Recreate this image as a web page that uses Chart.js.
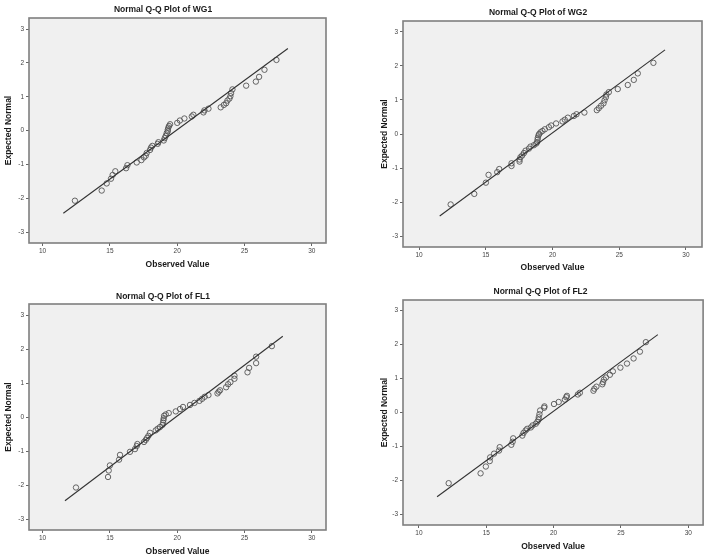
<!DOCTYPE html>
<html>
<head>
<meta charset="utf-8">
<script src="https://cdn.jsdelivr.net/npm/chart.js@4.4.1/dist/chart.umd.min.js"></script>
<style>
  html, body { margin: 0; padding: 0; background: #fff; }
  body { width: 708px; height: 557px; position: relative; overflow: hidden; }
  .panel { position: absolute; }
</style>
</head>
<body>
<div class="panel" style="left:0;top:0"><canvas id="c1" width="354" height="277"></canvas></div>
<div class="panel" style="left:354px;top:0"><canvas id="c2" width="354" height="277"></canvas></div>
<div class="panel" style="left:0;top:277px"><canvas id="c3" width="354" height="280"></canvas></div>
<div class="panel" style="left:354px;top:277px"><canvas id="c4" width="354" height="280"></canvas></div>
<script>
// tick labels shared by all four plots
const xTicks = [10, 15, 20, 25, 30];
const yTicks = [-3, -2, -1, 0, 1, 2, 3];

const titles = ['Normal Q-Q Plot of WG1', 'Normal Q-Q Plot of WG2', 'Normal Q-Q Plot of FL1', 'Normal Q-Q Plot of FL2'];

const wg1X = [12.40, 14.39, 14.76, 15.08, 15.2, 15.4, 16.2, 16.3, 16.99, 17.34, 17.53, 17.66, 17.73, 17.98, 18.05, 18.15, 18.55, 18.6, 19.0, 19.07, 19.15, 19.22, 19.3, 19.3, 19.34, 19.39, 19.47, 20.0, 20.2, 20.53, 21.08, 21.2, 21.95, 22.02, 22.32, 23.23, 23.46, 23.63, 23.73, 23.88, 23.95, 24.0, 24.1, 25.12, 25.84, 26.08, 26.48, 27.37];
const wg1Y = [-2.07, -1.77, -1.56, -1.42, -1.31, -1.2, -1.11, -1.02, -0.94, -0.87, -0.79, -0.74, -0.66, -0.57, -0.5, -0.45, -0.39, -0.34, -0.29, -0.22, -0.15, -0.07, -0.02, 0.03, 0.09, 0.14, 0.19, 0.23, 0.30, 0.36, 0.42, 0.47, 0.54, 0.60, 0.65, 0.69, 0.76, 0.81, 0.89, 0.95, 1.02, 1.11, 1.22, 1.33, 1.45, 1.59, 1.80, 2.09];
const wg1LineX = [11.54, 28.22];
const wg1LineY = [-2.44, 2.43];

const wg2X = [12.37, 14.14, 15.01, 15.21, 15.86, 16.01, 16.93, 16.93, 17.53, 17.53, 17.6, 17.73, 17.86, 17.98, 18.23, 18.35, 18.6, 18.78, 18.85, 18.88, 18.9, 18.95, 19.0, 19.1, 19.25, 19.43, 19.73, 19.9, 20.27, 20.75, 20.92, 21.15, 21.6, 21.8, 22.39, 23.32, 23.47, 23.64, 23.82, 23.9, 24.0, 24.04, 24.22, 24.89, 25.64, 26.09, 26.39, 27.56];
const wg2Y = [-2.07, -1.76, -1.43, -1.20, -1.12, -1.03, -0.94, -0.86, -0.81, -0.75, -0.68, -0.63, -0.56, -0.49, -0.43, -0.37, -0.33, -0.28, -0.24, -0.17, -0.11, -0.04, 0.0, 0.05, 0.09, 0.14, 0.20, 0.25, 0.31, 0.37, 0.42, 0.48, 0.53, 0.58, 0.63, 0.70, 0.76, 0.83, 0.90, 0.99, 1.08, 1.16, 1.23, 1.32, 1.44, 1.59, 1.78, 2.09];
const wg2LineX = [11.55, 28.43];
const wg2LineY = [-2.41, 2.47];

const fl1X = [12.48, 14.86, 14.91, 15.0, 15.68, 15.75, 16.49, 16.86, 16.99, 17.04, 17.53, 17.66, 17.76, 17.86, 17.98, 18.4, 18.55, 18.72, 18.9, 18.95, 18.97, 19.0, 19.02, 19.15, 19.37, 19.89, 20.21, 20.43, 20.95, 21.28, 21.65, 21.85, 22.04, 22.32, 22.99, 23.08, 23.18, 23.63, 23.78, 23.95, 24.25, 24.25, 25.22, 25.34, 25.86, 25.86, 27.03];
const fl1Y = [-2.07, -1.76, -1.57, -1.42, -1.25, -1.11, -1.02, -0.94, -0.85, -0.79, -0.73, -0.67, -0.61, -0.55, -0.46, -0.39, -0.34, -0.29, -0.23, -0.16, -0.09, -0.03, 0.04, 0.08, 0.12, 0.17, 0.24, 0.30, 0.36, 0.42, 0.48, 0.54, 0.60, 0.65, 0.70, 0.75, 0.79, 0.88, 0.97, 1.03, 1.13, 1.22, 1.32, 1.45, 1.59, 1.78, 2.09];
const fl1LineX = [11.66, 27.84];
const fl1LineY = [-2.46, 2.38];

const fl2X = [12.21, 14.58, 14.97, 15.26, 15.29, 15.58, 15.95, 16.0, 16.86, 16.96, 17.0, 17.68, 17.77, 17.92, 18.04, 18.31, 18.44, 18.68, 18.8, 18.88, 18.9, 18.95, 19.0, 19.3, 19.32, 20.03, 20.38, 20.84, 20.94, 20.99, 21.8, 21.95, 22.96, 23.03, 23.18, 23.62, 23.67, 23.74, 23.89, 24.18, 24.4, 24.96, 25.45, 25.94, 26.41, 26.85];
const fl2Y = [-2.08, -1.79, -1.59, -1.43, -1.32, -1.21, -1.12, -1.02, -0.95, -0.86, -0.76, -0.68, -0.60, -0.53, -0.48, -0.44, -0.38, -0.33, -0.27, -0.21, -0.14, -0.05, 0.06, 0.14, 0.18, 0.25, 0.31, 0.38, 0.45, 0.49, 0.53, 0.58, 0.64, 0.70, 0.76, 0.83, 0.89, 0.97, 1.03, 1.11, 1.21, 1.32, 1.44, 1.59, 1.79, 2.07];
const fl2LineX = [11.35, 27.74];
const fl2LineY = [-2.48, 2.29];

// axis ranges of each plot
const xRanges = [[8.99, 31.05], [8.8, 31.2], [8.99, 31.05], [8.82, 31.1]];
const yRanges = [[-3.32, 3.33], [-3.32, 3.32], [-3.32, 3.33], [-3.31, 3.31]];

const FONT = "'Liberation Sans', Arial, sans-serif";

// grey plot area + frame, like SPSS
const framePlugin = {
    id: 'frame',
    beforeDraw(chart) {
        const a = chart.chartArea, ctx = chart.ctx;
        ctx.save();
        ctx.fillStyle = '#f0f0f0';
        ctx.fillRect(a.left, a.top, a.right - a.left, a.bottom - a.top);
        ctx.restore();
    },
    afterDraw(chart) {
        const a = chart.chartArea, ctx = chart.ctx;
        ctx.save();
        ctx.strokeStyle = '#7f7f7f';
        ctx.lineWidth = 1.6;
        ctx.strokeRect(a.left, a.top, a.right - a.left, a.bottom - a.top);
        ctx.restore();
    }
};

function pairs(xs, ys) {
    return xs.map((x, i) => ({ x: x, y: ys[i] }));
}

function makePlot(id, n, xs, ys, lx, ly, lay) {
    const ctx = document.getElementById(id).getContext('2d');
    return new Chart(ctx, {
        type: 'scatter',
        data: {
            datasets: [
                {
                    type: 'line',
                    data: pairs(lx, ly),
                    borderColor: '#333',
                    borderWidth: 1.1,
                    pointRadius: 0,
                    fill: false
                },
                {
                    data: pairs(xs, ys),
                    pointStyle: 'circle',
                    pointRadius: 2.7,
                    backgroundColor: 'rgba(0,0,0,0)',
                    borderColor: '#555',
                    borderWidth: 0.9
                }
            ]
        },
        options: {
            responsive: false,
            animation: false,
            layout: { padding: { left: lay.padL, right: lay.padR, top: 0, bottom: 0 } },
            plugins: {
                legend: { display: false },
                tooltip: { enabled: false },
                title: {
                    display: true,
                    text: titles[n],
                    color: '#1a1a1a',
                    font: { family: FONT, size: 8.5, weight: 'bold', lineHeight: '10px' },
                    padding: { top: lay.tTop, bottom: lay.tBot }
                }
            },
            scales: {
                x: {
                    type: 'linear',
                    min: xRanges[n][0],
                    max: xRanges[n][1],
                    afterBuildTicks: s => { s.ticks = xTicks.map(v => ({ value: v })); },
                    afterFit: s => { s.height = lay.xH; },
                    grid: { drawOnChartArea: false, drawTicks: true, tickLength: 3, color: '#666' },
                    border: { display: false },
                    ticks: { color: '#444', font: { family: FONT, size: 6.5 }, padding: 1, maxRotation: 0, callback: v => String(v) },
                    title: {
                        display: true,
                        text: 'Observed Value',
                        color: '#1a1a1a',
                        font: { family: FONT, size: 8.5, weight: 'bold', lineHeight: '10px' },
                        padding: { top: 0, bottom: lay.xtPad }
                    }
                },
                y: {
                    type: 'linear',
                    min: yRanges[n][0],
                    max: yRanges[n][1],
                    afterBuildTicks: s => { s.ticks = yTicks.map(v => ({ value: v })); },
                    afterFit: s => { s.width = lay.yW; },
                    grid: { drawOnChartArea: false, drawTicks: true, tickLength: 3, color: '#666' },
                    border: { display: false },
                    ticks: { color: '#444', font: { family: FONT, size: 6.5 }, padding: 2, callback: v => String(v) },
                    title: {
                        display: true,
                        text: 'Expected Normal',
                        color: '#1a1a1a',
                        font: { family: FONT, size: 8.5, weight: 'bold', lineHeight: '10px' },
                        padding: { top: lay.ytPad, bottom: 0 }
                    }
                }
            }
        },
        plugins: [framePlugin]
    });
}

window.onload = function() {
    makePlot('c1', 0, wg1X, wg1Y, wg1LineX, wg1LineY, { padL: 0, padR: 28, yW: 29, xH: 34, tTop: 5, tBot: 3, ytPad: 4, xtPad: 7 });
    makePlot('c2', 1, wg2X, wg2Y, wg2LineX, wg2LineY, { padL: 20, padR: 6, yW: 29, xH: 30, tTop: 8, tBot: 3, ytPad: 6, xtPad: 4 });
    makePlot('c3', 2, fl1X, fl1Y, fl1LineX, fl1LineY, { padL: 0, padR: 28, yW: 29, xH: 27, tTop: 15, tBot: 2, ytPad: 4, xtPad: 0 });
    makePlot('c4', 3, fl2X, fl2Y, fl2LineX, fl2LineY, { padL: 22, padR: 3, yW: 27, xH: 32, tTop: 10, tBot: 3, ytPad: 4, xtPad: 5 });
};
</script>
</body>
</html>
